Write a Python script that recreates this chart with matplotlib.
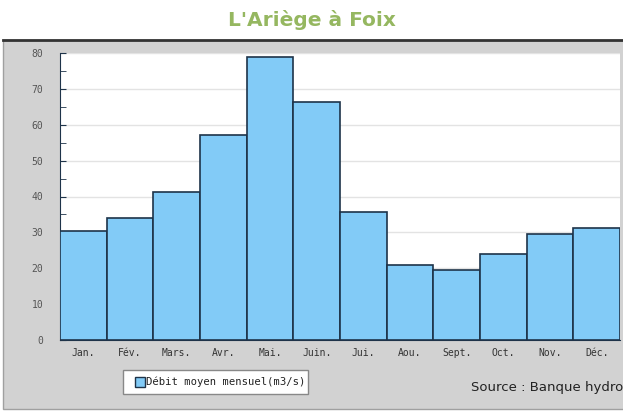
import matplotlib.pyplot as plt
from matplotlib.patches import Rectangle
import numpy as np

mois = ['Jan.', 'Fév.', 'Mars.', 'Avr.', 'Mai.', 'Juin.', 'Jui.', 'Aou.', 'Sept.', 'Oct.', 'Nov.', 'Déc.']
debit = [30.4, 33.9, 41.3, 57.2, 79.0, 66.3, 35.6, 21.0, 19.6, 24.0, 29.6, 31.2]
yticks = [0, 10, 20, 30, 40, 50, 60, 70, 80]

W, H = 623, 413
fig = plt.figure(figsize=(W / 100, H / 100), dpi=100)
fig.patch.set_facecolor('white')

# panneau gris
fig.patches.append(Rectangle((3 / W, 1 - 409 / H), 1, (409 - 40) / H, transform=fig.transFigure,
                             facecolor='#d2d2d2', edgecolor='#a0a0a0', linewidth=1, zorder=-5))
fig.lines.append(plt.Line2D([3 / W, 1], [1 - 40 / H, 1 - 40 / H], transform=fig.transFigure,
                            color='#333333', linewidth=2, zorder=-4))

fig.text(0.5, 1 - 20 / H, "L'Ariège à Foix", ha='center', va='center', fontsize=14.5,
         fontweight='bold', color='#95b760', family='DejaVu Sans')

ax = fig.add_axes([60 / W, 1 - 340 / H, 560 / W, 287 / H])
ax.set_zorder(2)
ax.set_facecolor('white')
x = np.arange(len(mois))
ax.bar(x, debit, width=1.0, color='#82cbf7', edgecolor='#1e3349', linewidth=1.2, zorder=3)
ax.set_xlim(-0.5, 11.5)
ax.set_ylim(0, 80)
ax.set_yticks(yticks)
ax.set_yticks(np.arange(5, 80, 10), minor=True)
ax.yaxis.grid(True, color='#e3e3e3', linewidth=1, zorder=0)
ax.set_xticks(x)
ax.set_xticklabels(mois, family='DejaVu Sans Mono', fontsize=7)
ax.tick_params(axis='x', length=0, pad=6, labelcolor='#333333')
ax.tick_params(axis='y', which='both', direction='in', length=4, color='#1e3349',
               labelsize=7, labelcolor='#555555', pad=12)
for lab in ax.get_yticklabels():
    lab.set_family('DejaVu Sans Mono')
for s in ['top', 'right']:
    ax.spines[s].set_visible(False)
ax.spines['left'].set_color('#1e3349')
ax.spines['bottom'].set_color('#1e3349')

# légende
fig.patches.append(Rectangle((123 / W, 1 - 394 / H), 185 / W, 24 / H, transform=fig.transFigure,
                             facecolor='white', edgecolor='#888888', linewidth=1, zorder=5))
fig.patches.append(Rectangle((135 / W, 1 - 387 / H), 10 / W, 10 / H, transform=fig.transFigure,
                             facecolor='#82cbf7', edgecolor='#1e3349', linewidth=1, zorder=6))
fig.text(146 / W, 1 - 382 / H, 'Débit moyen mensuel(m3/s)', ha='left', va='center', fontsize=7.6,
         family='DejaVu Sans Mono', color='#222222', zorder=7)

fig.text(1.0, 1 - 387 / H, 'Source : Banque hydro', ha='right', va='center', fontsize=9.5,
         color='#222222')

fig.savefig('out.png', dpi=100)
